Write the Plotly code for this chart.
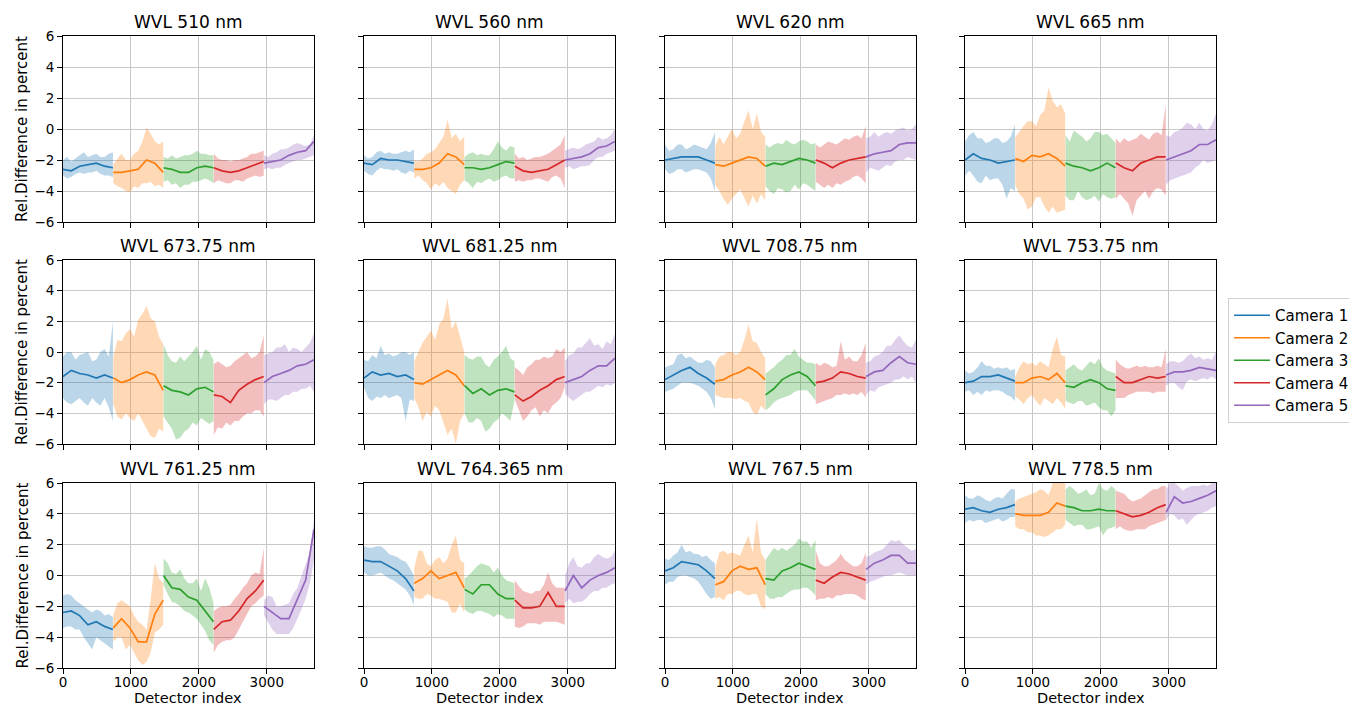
"""
relative difference per detector pixel, 12 wavelengths x 5 cameras
mean line + light min/max band for every camera
"""
import plotly.graph_objs as go

WAVELENGTHS = ["510", "560", "620", "665", "673.75", "681.25",
               "708.75", "753.75", "761.25", "764.365", "767.5", "778.5"]
CAMERAS = ["Camera 1", "Camera 2", "Camera 3", "Camera 4", "Camera 5"]
COLORS = ["#1f77b4", "#ff7f0e", "#2ca02c", "#d62728", "#9467bd"]
BAND_COLORS = ["rgba(31,119,180,0.3)", "rgba(255,127,14,0.3)", "rgba(44,160,44,0.3)",
               "rgba(214,39,40,0.3)", "rgba(148,103,189,0.3)"]

# first detector index of each camera, and sample offsets inside a camera
CAM_START = [0, 740, 1480, 2220, 2960]
MEAN_OFFSET = [0, 122, 245, 367, 490, 612, 735]
BAND_OFFSET = [0, 61, 122, 184, 245, 306, 367, 429, 490, 551, 612, 674, 735]

X_TICKS = [0, 1000, 2000, 3000]
Y_TICKS = [-6, -4, -2, 0, 2, 4, 6]

# one list per camera: mean (7 samples), lower / upper envelope (13 samples), percent
MEAN_510 = [[-2.6, -2.7, -2.4, -2.3, -2.2, -2.4, -2.5],
            [-2.8, -2.8, -2.7, -2.6, -2.0, -2.2, -2.8],
            [-2.5, -2.6, -2.8, -2.8, -2.5, -2.4, -2.5],
            [-2.5, -2.7, -2.8, -2.7, -2.5, -2.3, -2.1],
            [-2.2, -2.1, -2.0, -1.7, -1.5, -1.4, -0.8]]
LO_510 = [[-3.0, -3.2, -3.1, -2.9, -2.8, -2.9, -2.8, -2.8, -2.7, -2.9, -3.0, -3.0, -3.1],
          [-3.5, -3.7, -3.8, -4.0, -4.1, -3.7, -3.8, -3.5, -3.5, -3.4, -3.7, -3.6, -3.8],
          [-3.4, -3.3, -3.6, -3.5, -3.8, -3.6, -3.6, -3.4, -3.4, -3.3, -3.2, -3.3, -3.5],
          [-3.5, -3.3, -3.4, -3.5, -3.5, -3.3, -3.3, -3.4, -3.2, -3.1, -3.0, -3.1, -3.0],
          [-2.6, -2.5, -2.6, -2.5, -2.5, -2.3, -2.2, -2.1, -2.0, -2.0, -1.9, -1.8, -1.7]]
HI_510 = [[-2.0, -1.8, -2.1, -1.9, -1.7, -1.5, -1.8, -1.7, -1.6, -1.8, -1.8, -1.6, -1.5],
          [-2.3, -1.9, -1.6, -2.0, -2.0, -1.6, -1.4, -0.8, 0.1, -0.3, -0.8, -1.0, -0.8],
          [-1.8, -1.9, -1.7, -1.9, -1.8, -1.7, -1.7, -1.6, -1.4, -1.6, -1.6, -1.7, -1.7],
          [-1.6, -1.9, -2.0, -2.0, -2.1, -2.0, -2.0, -1.9, -1.8, -1.6, -1.6, -1.5, -1.4],
          [-1.7, -1.8, -1.6, -1.5, -1.3, -1.3, -1.2, -1.0, -0.9, -1.0, -1.1, -1.0, -0.4]]

MEAN_560 = [[-2.2, -2.3, -1.9, -2.0, -2.0, -2.1, -2.2],
            [-2.6, -2.6, -2.5, -2.2, -1.6, -1.8, -2.3],
            [-2.5, -2.5, -2.6, -2.5, -2.3, -2.1, -2.2],
            [-2.4, -2.7, -2.8, -2.7, -2.6, -2.3, -2.0],
            [-2.0, -1.9, -1.8, -1.6, -1.2, -1.1, -0.8]]
LO_560 = [[-2.7, -2.9, -3.0, -2.7, -2.5, -2.6, -2.6, -2.7, -2.6, -2.8, -2.9, -2.7, -2.8],
          [-3.2, -3.0, -3.3, -3.5, -3.9, -3.5, -3.7, -3.4, -3.8, -4.0, -4.2, -3.6, -3.3],
          [-3.3, -3.5, -3.8, -3.4, -3.5, -3.3, -3.2, -3.4, -3.3, -3.1, -3.0, -3.2, -3.2],
          [-3.4, -3.3, -3.4, -3.3, -3.3, -3.2, -3.2, -3.3, -3.4, -3.1, -3.0, -3.2, -3.8],
          [-2.5, -2.4, -2.6, -2.5, -2.4, -2.4, -2.3, -2.0, -1.8, -1.8, -1.6, -1.5, -1.4]]
HI_560 = [[-1.7, -1.9, -1.8, -1.5, -1.4, -1.6, -1.5, -1.6, -1.6, -1.5, -1.4, -1.5, -1.3],
          [-2.0, -2.1, -1.9, -1.6, -1.5, -1.3, -0.9, -0.5, 0.6, -0.6, -0.3, -0.8, -0.5],
          [-1.8, -1.6, -1.5, -1.7, -1.6, -1.7, -1.7, -1.3, -0.8, -1.2, -1.4, -1.1, -1.2],
          [-1.6, -1.9, -1.8, -2.0, -1.9, -1.8, -1.8, -1.7, -1.6, -1.4, -1.2, -1.0, -0.4],
          [-1.4, -1.3, -1.2, -1.3, -1.2, -1.0, -0.9, -0.8, -0.5, -0.7, -0.6, -0.4, 0.0]]

MEAN_620 = [[-2.0, -1.9, -1.8, -1.8, -1.8, -2.0, -2.2],
            [-2.3, -2.4, -2.2, -2.0, -1.8, -1.9, -2.4],
            [-2.4, -2.2, -2.3, -2.1, -1.9, -2.0, -2.2],
            [-2.0, -2.2, -2.5, -2.2, -2.0, -1.9, -1.8],
            [-1.8, -1.6, -1.5, -1.4, -1.0, -0.9, -0.9]]
LO_620 = [[-2.6, -2.9, -2.8, -2.6, -2.6, -2.8, -2.7, -2.6, -2.6, -2.7, -2.8, -3.2, -4.0],
          [-3.6, -4.0, -4.5, -4.9, -4.5, -4.2, -3.9, -4.5, -5.0, -4.3, -4.8, -4.2, -4.6],
          [-3.7, -4.0, -4.2, -3.8, -3.9, -4.1, -4.0, -3.6, -3.9, -3.5, -3.6, -3.8, -4.0],
          [-3.4, -3.6, -3.8, -3.6, -3.8, -3.5, -3.6, -3.4, -3.3, -3.1, -3.0, -3.2, -3.5],
          [-2.8, -2.5, -2.6, -2.7, -2.5, -2.3, -2.4, -2.1, -2.0, -2.0, -1.8, -1.9, -2.0]]
HI_620 = [[-1.0, -1.4, -1.3, -1.0, -1.0, -1.3, -1.2, -1.0, -1.1, -1.2, -1.3, -0.9, -0.2],
          [-1.1, -0.5, -1.0, -0.5, 0.0, -0.6, -0.3, 0.5, 1.2, 0.0, 1.0, -0.2, -0.5],
          [-1.0, -1.2, -1.0, -0.9, -1.0, -0.7, -0.9, -1.0, -0.8, -0.7, -0.8, -1.0, -0.9],
          [-1.0, -1.2, -1.0, -0.8, -0.9, -1.0, -0.8, -0.6, -0.7, -0.5, -0.4, -0.6, 0.2],
          [-0.6, -0.5, -0.2, -0.5, -0.3, -0.2, -0.3, -0.1, 0.0, 0.1, -0.1, 0.0, 0.3]]

MEAN_665 = [[-2.0, -1.6, -1.9, -2.0, -2.2, -2.1, -2.0],
            [-1.9, -2.1, -1.7, -1.8, -1.6, -1.9, -2.4],
            [-2.2, -2.4, -2.5, -2.7, -2.5, -2.2, -2.5],
            [-2.2, -2.5, -2.7, -2.2, -2.0, -1.8, -1.8],
            [-2.0, -1.8, -1.6, -1.4, -1.0, -1.0, -0.7]]
LO_665 = [[-3.0, -2.7, -3.0, -3.4, -3.5, -3.0, -3.3, -3.2, -3.2, -3.6, -4.5, -3.8, -4.0],
          [-3.6, -4.2, -4.5, -5.2, -5.0, -4.4, -4.4, -5.0, -5.4, -5.0, -5.4, -5.3, -5.2],
          [-4.3, -4.6, -4.6, -4.0, -4.4, -4.6, -4.5, -4.3, -4.7, -4.2, -4.4, -4.5, -4.4],
          [-4.5, -4.2, -4.5, -4.8, -5.6, -4.6, -4.3, -4.0, -4.5, -4.0, -3.8, -3.9, -4.3],
          [-3.6, -3.3, -3.2, -3.1, -3.0, -2.9, -2.8, -2.5, -2.3, -2.0, -2.2, -2.1, -2.0]]
HI_665 = [[-0.8, -0.4, -0.2, -0.6, -0.6, -0.9, -0.8, -0.6, -0.6, -0.9, -0.8, -0.5, 0.3],
          [-0.5, -0.2, 0.2, 0.5, 0.5, 0.2, 0.9, 1.2, 2.7, 1.8, 1.4, 1.6, 1.0],
          [-0.4, -0.8, -0.1, -0.3, -0.5, -0.8, -0.6, -0.2, -0.2, -0.4, -0.3, -0.6, -0.9],
          [-0.6, -0.9, -0.6, -0.8, -0.7, -0.6, -0.3, -0.5, -0.7, -0.3, -0.2, -0.4, 1.6],
          [-0.4, -0.5, -0.2, -0.1, 0.1, 0.4, 0.3, 0.0, 0.4, 0.0, -0.1, 0.3, 1.0]]

MEAN_673 = [[-1.6, -1.2, -1.4, -1.5, -1.7, -1.5, -1.7],
            [-1.7, -2.0, -1.8, -1.5, -1.3, -1.5, -2.5],
            [-2.2, -2.5, -2.6, -2.8, -2.4, -2.3, -2.6],
            [-2.8, -2.9, -3.3, -2.5, -2.1, -1.8, -1.6],
            [-2.0, -1.6, -1.4, -1.2, -0.9, -0.8, -0.5]]
LO_673 = [[-3.0, -3.3, -3.4, -3.2, -3.0, -3.3, -3.5, -3.0, -3.3, -3.5, -3.0, -3.6, -4.5],
          [-3.4, -4.2, -4.4, -4.0, -4.3, -4.5, -4.0, -4.6, -5.0, -5.5, -5.6, -5.0, -5.2],
          [-4.2, -4.6, -5.0, -5.7, -5.6, -5.2, -5.0, -4.6, -4.8, -4.3, -4.5, -4.7, -4.5],
          [-5.4, -4.9, -5.0, -4.6, -4.8, -4.5, -4.5, -4.2, -4.0, -4.0, -3.8, -3.8, -4.2],
          [-3.4, -3.1, -3.1, -3.2, -3.0, -2.8, -2.8, -2.6, -2.6, -2.4, -2.4, -2.2, -2.6]]
HI_673 = [[-0.3, 0.0, 0.0, -0.5, -0.2, -0.1, 0.0, -0.6, -0.5, 0.0, 0.2, -0.3, 2.0],
          [-0.3, 0.8, 0.7, 1.2, 1.5, 1.0, 2.1, 2.5, 3.0, 2.2, 2.0, 1.0, 0.5],
          [0.5, -0.2, -0.6, -0.7, -0.3, -0.6, -0.3, 0.0, 0.4, -0.5, 0.2, 0.0, -0.5],
          [-0.8, -0.6, -0.8, -1.0, -0.9, -0.6, -0.4, -0.2, 0.0, -0.4, -0.3, 0.0, 1.1],
          [-0.2, -0.1, 0.0, 0.3, 0.3, 0.5, 0.0, 0.3, 0.2, 0.0, 0.3, 0.6, 1.2]]

MEAN_681 = [[-1.7, -1.3, -1.5, -1.4, -1.6, -1.5, -1.8],
            [-2.0, -2.1, -1.8, -1.5, -1.2, -1.5, -2.2],
            [-2.2, -2.7, -2.4, -2.8, -2.5, -2.4, -2.6],
            [-2.8, -3.2, -2.9, -2.5, -2.2, -1.8, -1.6],
            [-2.0, -1.8, -1.6, -1.2, -0.9, -0.9, -0.4]]
LO_681 = [[-2.3, -3.0, -3.2, -2.9, -3.0, -2.8, -3.0, -2.9, -2.8, -3.0, -4.5, -3.1, -3.2],
          [-3.0, -3.6, -4.5, -3.9, -4.2, -3.5, -3.8, -4.6, -5.4, -5.0, -6.0, -4.5, -4.0],
          [-4.0, -4.6, -4.6, -4.3, -4.5, -5.2, -5.0, -4.6, -4.4, -4.0, -4.2, -4.5, -3.2],
          [-3.1, -3.8, -4.5, -4.2, -3.8, -3.6, -4.2, -3.8, -4.0, -3.5, -3.3, -3.0, -2.3],
          [-2.7, -3.0, -3.2, -3.0, -2.8, -2.6, -2.6, -2.4, -2.2, -2.3, -2.1, -2.2, -2.0]]
HI_681 = [[-0.5, -0.6, -0.2, -0.4, 0.4, -0.2, -0.1, -0.3, -0.2, 0.0, 0.0, -0.2, 0.0],
          [-0.6, 0.0, 0.6, 1.0, 1.4, 0.8, 1.8, 2.2, 3.5, 1.5, 2.0, 1.0, 0.0],
          [-0.2, -0.4, -0.5, -0.3, -0.3, -0.8, -1.0, -0.5, -0.3, 0.0, 0.4, -0.4, -0.6],
          [-1.0, -1.2, -1.5, -1.0, -0.8, -0.5, -0.5, -0.3, -0.4, -0.3, 0.2, 0.0, 0.3],
          [-0.6, -0.2, -0.1, 0.3, 0.3, 0.6, 0.9, 0.4, 0.5, 0.2, 0.7, 0.5, 1.2]]

MEAN_708 = [[-1.8, -1.5, -1.2, -1.0, -1.4, -1.7, -2.1],
            [-1.9, -1.8, -1.5, -1.3, -1.0, -1.3, -1.8],
            [-2.8, -2.4, -1.8, -1.5, -1.3, -1.6, -2.2],
            [-2.0, -1.9, -1.7, -1.3, -1.4, -1.6, -1.7],
            [-1.6, -1.3, -1.2, -0.7, -0.3, -0.7, -0.8]]
LO_708 = [[-2.6, -2.5, -2.4, -2.2, -2.0, -2.0, -2.0, -2.1, -2.2, -2.4, -2.6, -3.0, -3.7],
          [-2.8, -2.9, -3.0, -3.0, -3.0, -3.1, -3.0, -3.2, -3.3, -3.9, -4.1, -3.5, -3.8],
          [-3.8, -3.6, -3.3, -3.1, -3.0, -2.9, -2.8, -2.6, -2.5, -2.5, -2.5, -2.8, -3.2],
          [-3.4, -3.3, -3.2, -3.1, -3.0, -2.8, -2.8, -2.7, -2.8, -2.7, -2.8, -2.6, -3.0],
          [-2.8, -2.5, -2.6, -2.3, -2.2, -2.1, -2.0, -1.8, -1.8, -1.6, -1.8, -1.6, -2.0]]
HI_708 = [[-1.0, -0.9, -0.8, -0.2, -0.1, -0.4, -0.3, -0.5, -0.7, -0.7, -0.5, -0.6, -1.0],
          [-0.8, -0.3, -0.2, 0.0, 0.0, -0.2, 0.0, 0.8, 1.8, 0.7, 0.6, 0.0, -0.4],
          [-1.4, -1.2, -1.0, -0.7, -0.5, -0.2, -0.2, 0.2, -0.3, -0.5, -0.7, -0.7, -0.8],
          [-0.7, -0.9, -0.7, -0.8, -1.0, -0.9, 0.7, -0.5, -0.3, -0.6, -0.6, -0.2, 0.6],
          [-0.7, -0.6, -0.3, -0.2, 0.0, 0.4, 0.4, 0.8, 1.1, 0.7, 0.4, 0.3, 0.8]]

MEAN_753 = [[-2.0, -1.9, -1.6, -1.6, -1.5, -1.7, -1.9],
            [-2.0, -2.0, -1.7, -1.6, -1.8, -1.4, -2.0],
            [-2.2, -2.3, -2.0, -1.8, -2.0, -2.4, -2.5],
            [-1.6, -2.0, -2.0, -1.8, -1.6, -1.7, -1.6],
            [-1.5, -1.3, -1.3, -1.2, -1.0, -1.1, -1.2]]
LO_753 = [[-2.6, -2.5, -2.8, -2.6, -2.8, -2.5, -2.6, -2.5, -2.5, -2.6, -2.8, -2.9, -3.2],
          [-2.9, -3.1, -3.4, -3.0, -2.8, -3.2, -3.5, -3.0, -3.2, -3.4, -3.0, -3.3, -3.7],
          [-3.2, -3.3, -3.4, -3.2, -3.2, -3.5, -3.4, -3.3, -3.6, -3.8, -3.8, -4.2, -3.8],
          [-3.0, -3.0, -3.0, -2.8, -2.7, -2.6, -2.6, -2.6, -2.6, -2.7, -2.6, -2.6, -2.6],
          [-2.2, -2.0, -2.0, -2.3, -2.5, -1.9, -1.8, -1.9, -1.8, -1.7, -1.8, -1.6, -1.8]]
HI_753 = [[-1.2, -1.4, -1.3, -1.0, -0.6, -0.9, -0.9, -1.1, -1.0, -1.1, -1.0, -1.2, -1.1],
          [-1.6, -1.0, -0.6, -0.8, -0.7, -0.9, -0.6, -0.8, -1.0, 0.2, 1.0, -0.2, -0.3],
          [-1.2, -1.0, -0.8, -1.1, -1.2, -0.9, -0.6, -0.8, -0.4, -1.0, -1.2, -1.3, -1.4],
          [-0.5, -0.8, -1.0, -1.1, -1.0, -0.9, -1.0, -0.9, -1.0, -1.0, -0.9, -1.0, 0.2],
          [-0.8, -0.6, -0.6, -0.7, -0.6, -0.3, -0.1, -0.4, -0.3, -0.5, -0.4, -0.5, 0.0]]

MEAN_761 = [[-2.4, -2.3, -2.6, -3.2, -3.0, -3.3, -3.5],
            [-3.4, -2.8, -3.4, -4.3, -4.3, -2.5, -1.6],
            [0.0, -0.8, -0.9, -1.4, -1.6, -2.3, -3.0],
            [-3.5, -3.0, -2.9, -2.3, -1.5, -1.0, -0.3],
            [-2.0, -2.4, -2.8, -2.8, -1.6, -0.3, 3.0]]
LO_761 = [[-3.4, -3.3, -3.3, -3.5, -3.5, -4.0, -4.4, -4.8, -4.0, -4.2, -4.4, -4.6, -4.8],
          [-4.3, -4.0, -4.0, -4.8, -4.5, -5.0, -5.5, -5.8, -5.6, -5.0, -3.7, -3.5, -3.2],
          [-0.6, -1.2, -1.7, -1.8, -2.0, -2.3, -2.4, -2.6, -2.8, -3.2, -3.6, -4.2, -4.5],
          [-5.0, -4.5, -4.3, -4.2, -4.2, -4.0, -3.6, -3.0, -2.5, -2.0, -1.8, -1.5, -1.3],
          [-2.6, -3.0, -3.5, -3.8, -3.8, -3.8, -3.8, -3.4, -2.8, -2.2, -1.5, -0.5, 1.0]]
HI_761 = [[-1.3, -1.2, -1.3, -1.6, -1.8, -2.0, -2.2, -2.4, -2.2, -2.3, -2.6, -2.5, -2.7],
          [-2.6, -1.8, -1.6, -1.8, -2.0, -2.6, -3.0, -3.2, -3.5, -1.5, 0.8, -0.2, -0.5],
          [1.1, 0.8, 0.2, 0.1, 0.4, -0.2, -0.5, -0.5, -0.2, -1.0, -0.2, -0.8, -1.8],
          [-2.3, -2.1, -2.0, -2.0, -1.9, -1.5, -1.2, -0.8, -0.5, 0.0, 0.2, 0.1, 1.8],
          [-1.6, -1.3, -1.4, -2.0, -2.0, -1.9, -1.8, -1.2, -0.8, 0.0, 0.8, 1.5, 3.6]]

MEAN_764 = [[1.0, 0.9, 0.9, 0.6, 0.3, -0.2, -1.0],
            [-0.5, -0.2, 0.3, -0.2, 0.0, 0.2, -0.8],
            [-0.9, -1.2, -0.6, -0.6, -1.2, -1.5, -1.5],
            [-1.6, -2.1, -2.1, -2.0, -1.1, -2.0, -2.0],
            [-1.0, 0.0, -0.8, -0.3, 0.0, 0.2, 0.5]]
LO_764 = [[0.2, 0.0, 0.0, 0.1, 0.2, 0.0, -0.2, -0.3, -0.5, -0.7, -0.9, -1.3, -1.9],
          [-1.4, -1.5, -1.5, -1.2, -1.3, -1.5, -1.5, -1.6, -1.7, -2.4, -2.4, -1.8, -2.4],
          [-2.2, -2.4, -2.5, -2.3, -2.3, -2.4, -2.5, -2.7, -2.5, -2.6, -2.8, -2.8, -2.8],
          [-3.3, -3.4, -3.3, -3.1, -3.1, -3.1, -3.2, -3.0, -3.0, -3.0, -3.0, -3.1, -3.2],
          [-1.8, -1.5, -1.8, -1.7, -1.7, -1.5, -1.2, -1.0, -1.0, -0.8, -0.8, -0.6, -0.5]]
HI_764 = [[1.9, 1.8, 1.8, 1.9, 1.9, 1.7, 1.4, 1.3, 1.2, 1.0, 0.9, 0.5, 0.0],
          [0.5, 1.6, 1.6, 0.8, 0.6, 1.0, 1.2, 0.8, 1.1, 2.0, 2.6, 1.0, 0.8],
          [-0.2, 0.0, 0.3, 0.6, 0.8, 0.7, 0.6, 0.2, 0.5, 0.0, -0.3, -0.4, -0.5],
          [-0.3, -0.7, -1.0, -1.1, -1.2, -1.0, -1.0, -0.6, 0.2, -0.5, -0.8, -0.8, -0.8],
          [0.0, 0.8, 1.2, 0.6, 0.5, 0.8, 0.8, 1.2, 1.4, 1.2, 1.1, 1.2, 1.6]]

MEAN_767 = [[0.3, 0.5, 0.9, 0.8, 0.7, 0.3, -0.2],
            [-0.6, -0.4, 0.3, 0.6, 0.4, 0.5, -0.6],
            [-0.2, -0.3, 0.3, 0.5, 0.8, 0.6, 0.4],
            [-0.3, -0.5, -0.1, 0.2, 0.1, -0.1, -0.3],
            [0.4, 0.8, 1.0, 1.3, 1.3, 0.8, 0.8]]
LO_767 = [[-0.6, -0.4, -0.4, -0.1, 0.0, 0.0, -0.1, -0.2, -0.4, -0.8, -1.2, -1.5, -1.4],
          [-1.5, -1.4, -1.6, -1.2, -1.2, -1.0, -1.0, -1.2, -1.3, -1.2, -1.2, -2.0, -2.2],
          [-1.2, -1.5, -1.5, -1.4, -1.4, -1.2, -1.0, -0.9, -0.9, -0.8, -0.8, -1.0, -1.3],
          [-1.6, -1.5, -1.5, -1.4, -1.5, -1.3, -1.3, -1.2, -1.2, -1.2, -1.3, -1.5, -1.6],
          [-0.6, -0.4, -0.3, -0.2, -0.1, 0.0, 0.0, 0.1, 0.2, 0.1, 0.0, 0.0, 0.0]]
HI_767 = [[1.1, 1.0, 1.3, 1.5, 2.0, 1.5, 1.6, 1.4, 1.4, 1.2, 1.3, 1.0, 0.8],
          [0.5, 1.5, 1.6, 1.4, 1.5, 1.4, 1.3, 2.0, 2.6, 1.5, 3.7, 1.5, 1.0],
          [1.0, 1.4, 1.8, 1.6, 1.8, 1.6, 1.8, 2.0, 2.4, 2.2, 2.2, 1.8, 2.3],
          [1.6, 0.8, 0.6, 0.6, 0.8, 1.0, 1.4, 1.0, 0.8, 0.6, 0.6, 0.8, 1.5],
          [1.2, 1.3, 1.5, 1.6, 1.7, 2.0, 2.3, 2.2, 2.3, 2.0, 1.8, 1.6, 1.7]]

MEAN_778 = [[4.3, 4.4, 4.2, 4.1, 4.3, 4.4, 4.6],
            [4.0, 3.9, 3.9, 3.9, 4.1, 4.7, 4.5],
            [4.5, 4.4, 4.2, 4.2, 4.3, 4.2, 4.2],
            [4.2, 4.0, 3.8, 3.9, 4.1, 4.4, 4.6],
            [4.1, 5.1, 4.7, 4.8, 5.0, 5.2, 5.5]]
LO_778 = [[3.4, 3.6, 3.5, 3.6, 3.6, 3.4, 3.5, 3.6, 3.7, 3.5, 3.6, 3.8, 3.8],
          [3.2, 3.0, 3.0, 2.8, 2.8, 2.6, 2.6, 2.5, 2.6, 2.8, 3.0, 3.0, 3.3],
          [3.6, 3.4, 3.2, 3.3, 3.3, 3.0, 3.0, 3.1, 3.2, 2.6, 3.0, 3.1, 3.2],
          [3.0, 3.2, 3.0, 2.9, 2.9, 3.0, 3.0, 3.0, 3.2, 3.3, 3.4, 3.5, 3.6],
          [3.6, 4.0, 3.9, 3.6, 3.7, 3.3, 3.6, 3.9, 4.0, 4.1, 4.2, 4.4, 4.5]]
HI_778 = [[5.2, 5.0, 5.0, 5.2, 5.1, 4.9, 4.8, 5.0, 5.1, 5.0, 5.3, 5.6, 5.6],
          [4.8, 5.0, 5.1, 5.2, 5.3, 5.4, 5.6, 5.5, 5.2, 6.0, 6.0, 6.0, 6.0],
          [5.6, 5.8, 5.6, 5.3, 5.4, 5.6, 5.2, 5.3, 6.0, 5.6, 5.5, 5.8, 5.6],
          [5.5, 5.4, 5.3, 5.0, 4.8, 4.9, 5.0, 5.2, 5.4, 5.6, 5.6, 5.8, 5.8],
          [5.6, 6.0, 6.0, 5.8, 5.5, 5.7, 5.8, 5.8, 5.8, 5.9, 5.8, 6.0, 6.0]]

PANELS = [(MEAN_510, LO_510, HI_510), (MEAN_560, LO_560, HI_560),
          (MEAN_620, LO_620, HI_620), (MEAN_665, LO_665, HI_665),
          (MEAN_673, LO_673, HI_673), (MEAN_681, LO_681, HI_681),
          (MEAN_708, LO_708, HI_708), (MEAN_753, LO_753, HI_753),
          (MEAN_761, LO_761, HI_761), (MEAN_764, LO_764, HI_764),
          (MEAN_767, LO_767, HI_767), (MEAN_778, LO_778, HI_778)]

# the page body adds an 8px margin, so the figure is made that much smaller
OFF = 8
W, H = 1357 - OFF, 707 - OFF
# pixel boxes (in window pixels) of the axes: (left, right) and (top, bottom)
COL_PX = [(63, 314), (364, 615), (665, 916), (965, 1216)]
ROW_PX = [(36, 222), (260, 444), (483, 668)]
FONT = "DejaVu Sans"


def px(x):
    return (x - OFF) / W


def py(y):
    return 1 - (y - OFF) / H


def det_x(cam, offsets):
    return [CAM_START[cam] + o for o in offsets]


fig = go.Figure()
annotations = []

for p, (mean, lo, hi) in enumerate(PANELS):
    row, col = divmod(p, 4)
    n = p + 1
    xa = "x" if n == 1 else f"x{n}"
    ya = "y" if n == 1 else f"y{n}"
    for c in range(5):
        xb = det_x(c, BAND_OFFSET)
        fig.add_trace(go.Scatter(
            x=xb + xb[::-1], y=hi[c] + lo[c][::-1],
            fill="toself", fillcolor=BAND_COLORS[c], line=dict(width=0),
            mode="lines", hoverinfo="skip", showlegend=False,
            xaxis=xa, yaxis=ya))
        fig.add_trace(go.Scatter(
            x=det_x(c, MEAN_OFFSET), y=mean[c], mode="lines",
            line=dict(color=COLORS[c], width=1.7),
            name=CAMERAS[c], showlegend=(p == 0),
            xaxis=xa, yaxis=ya))

    x0, x1 = COL_PX[col]
    y0, y1 = ROW_PX[row]
    axis_common = dict(showline=True, mirror=True, linecolor="black", linewidth=1,
                       ticks="outside", ticklen=5, tickcolor="black",
                       showgrid=True, gridcolor="#c8c8c8", gridwidth=1,
                       zeroline=False, automargin=False,
                       tickfont=dict(family=FONT, size=13.5, color="black"))
    fig.layout[f"xaxis{'' if n == 1 else n}"] = dict(
        axis_common, domain=[px(x0), px(x1)], anchor=ya, range=[0, 3695],
        tickvals=X_TICKS, showticklabels=(row == 2), ticklabelstandoff=-3)
    fig.layout[f"yaxis{'' if n == 1 else n}"] = dict(
        axis_common, domain=[py(y1), py(y0)], anchor=xa, range=[-6, 6],
        tickvals=Y_TICKS, showticklabels=(col == 0))

    annotations.append(dict(
        text=f"WVL {WAVELENGTHS[p]} nm", x=px((x0 + x1) / 2), y=py(y0 - 14),
        xref="paper", yref="paper", showarrow=False, xanchor="center", yanchor="middle",
        font=dict(family=FONT, size=17, color="black")))
    if col == 0:
        annotations.append(dict(
            text="Rel.Difference in percent", x=px(22), y=py((y0 + y1) / 2),
            xref="paper", yref="paper", showarrow=False, textangle=-90,
            xanchor="center", yanchor="middle",
            font=dict(family=FONT, size=15, color="black")))
    if row == 2:
        # sits on the bottom edge of the page
        annotations.append(dict(
            text="Detector index", x=px((x0 + x1) / 2), y=0,
            xref="paper", yref="paper", showarrow=False,
            xanchor="center", yanchor="bottom", borderpad=0,
            font=dict(family=FONT, size=14.5, color="black")))

fig.update_layout(
    template="none",
    width=W, height=H, margin=dict(l=0, r=0, t=0, b=0, pad=0, autoexpand=False),
    paper_bgcolor="white", plot_bgcolor="white",
    annotations=annotations,
    legend=dict(x=px(1228), y=py(298), xanchor="left", yanchor="top",
                bgcolor="white", bordercolor="#d0d0d0", borderwidth=1,
                font=dict(family=FONT, size=15, color="black"),
                itemwidth=36),
)

fig.write_html("out.html")
